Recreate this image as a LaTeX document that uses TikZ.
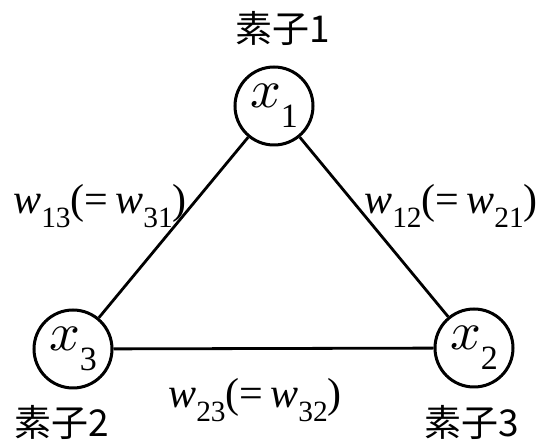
\documentclass[tikz,border=0pt]{standalone}
\usepackage{graphicx}
\usepackage{fontspec}
\newfontfamily\cjk{Noto Sans CJK JP}
\newfontfamily\tnr{Liberation Serif}
\newcommand{\myvar}[2]{{\tnr\itshape #1}\raisebox{-0.32em}{\tnr\fontsize{0.7em}{0.7em}\selectfont #2}}
\newcommand{\myx}[1]{\scalebox{5.4}{\normalsize$x$}\raisebox{-0.4em}{\tnr\fontsize{0.68em}{0.68em}\selectfont #1}}
\tikzset{
  unit/.style={circle, draw, line width=3pt, minimum size=78pt, inner sep=0pt, font=\tnr\fontsize{50}{50}\selectfont},
  lbl/.style={font=\cjk\fontsize{37}{37}\selectfont, inner sep=0pt},
  wlbl/.style={font=\tnr\fontsize{42}{42}\selectfont, inner sep=0pt},
  link/.style={line width=2.8pt}
}
\begin{document}
\begin{tikzpicture}[x=1pt,y=-1pt]
\useasboundingbox (0,0) rectangle (539,443);
\node[unit] (x1) at (274,106) {\myx{1}};
\node[unit] (x3) at (73,349) {\myx{3}};
\node[unit] (x2) at (474,348) {\myx{2}};
\draw[link] (x1) -- (x3);
\draw[link] (x1) -- (x2);
\draw[link] (x3) -- (x2);
\node[lbl] (l1) at (283,28) {素子1};
\node[lbl] (l2) at (62,422) {素子2};
\node[lbl] (l3) at (472,422) {素子3};
\node[wlbl] (w13) at (100,206) {\myvar{w}{13}(=\,\myvar{w}{31})};
\node[wlbl] (w12) at (451,206) {\myvar{w}{12}(=\,\myvar{w}{21})};
\node[wlbl] (w23) at (255,400) {\myvar{w}{23}(=\,\myvar{w}{32})};
\end{tikzpicture}
\end{document}
